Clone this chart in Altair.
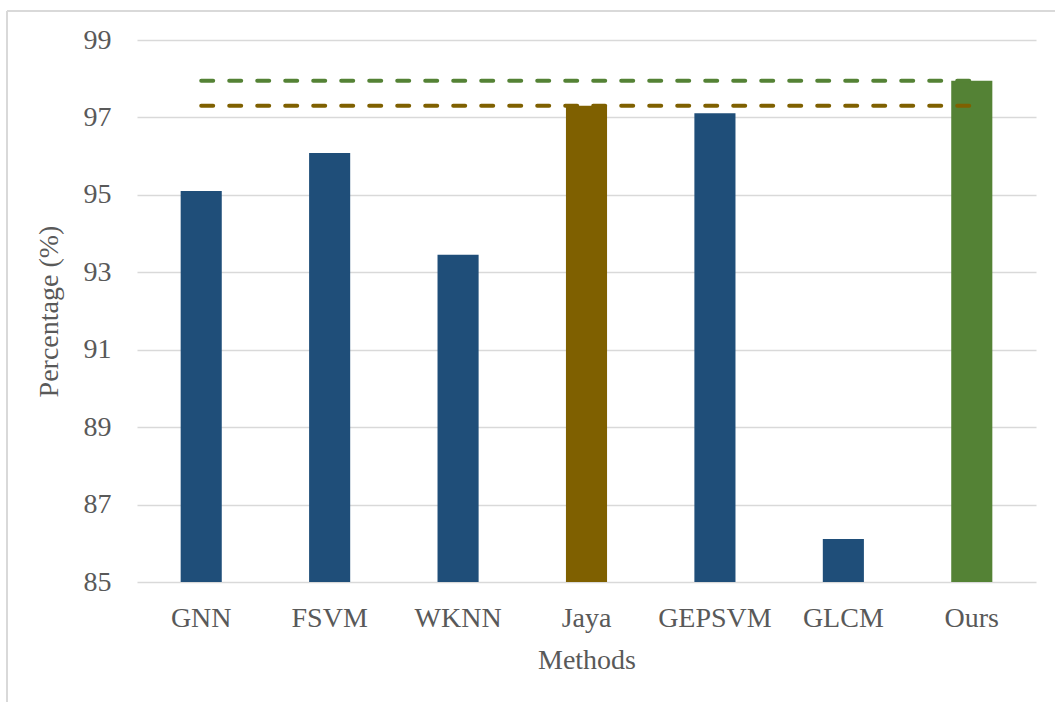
import altair as alt
import pandas as pd

# Accuracy of each method (%)
methods = ["GNN", "FSVM", "WKNN", "Jaya", "GEPSVM", "GLCM", "Ours"]
accuracy = [95.10, 96.08, 93.45, 97.30, 97.11, 86.11, 97.95]
y_ticks = [85, 87, 89, 91, 93, 95, 97, 99]

# Reference levels: best competing method and our method
ref_names = ["Jaya", "Ours"]
ref_values = [accuracy[methods.index(n)] for n in ref_names]

BLUE, BROWN, GREEN = "#1F4E79", "#7F6000", "#548235"
bar_palette = [BLUE, BLUE, BLUE, BROWN, BLUE, BLUE, GREEN]
GRID = "#D9D9D9"
TEXT = "#595959"
FONT = "Liberation Serif"

W, H = 899, 542
PAD = {"left": 137, "top": 40, "right": 19, "bottom": 120}

bars_df = pd.DataFrame({"Method": methods, "Accuracy": accuracy})
ref_rows = []
for name, val in zip(ref_names, ref_values):
    ref_rows.append({"Method": methods[0], "Accuracy": val, "ref": name})
    ref_rows.append({"Method": methods[-1], "Accuracy": val, "ref": name})
ref_df = pd.DataFrame(ref_rows)

x_enc = alt.X(
    "Method:N",
    sort=methods,
    scale=alt.Scale(domain=methods, paddingInner=0.68, paddingOuter=0.34),
    axis=alt.Axis(
        title="Methods",
        labelAngle=0,
        labelPadding=22,
        titlePadding=14,
        ticks=False,
        tickSize=0,
        domain=False,
        grid=False,
    ),
)
y_scale = alt.Scale(domain=[85, 99], nice=False, zero=False)

bars = (
    alt.Chart(bars_df)
    .mark_bar()
    .encode(
        x=x_enc,
        y=alt.Y(
            "Accuracy:Q",
            scale=y_scale,
            axis=alt.Axis(
                title="Percentage (%)",
                values=y_ticks,
                ticks=False,
                tickSize=0,
                domain=False,
                labelPadding=26,
                titlePadding=20,
                grid=True,
                gridColor=GRID,
                gridWidth=1.5,
            ),
        ),
        y2=alt.datum(85),
        color=alt.Color(
            "Method:N",
            scale=alt.Scale(domain=methods, range=bar_palette),
            legend=None,
        ),
    )
)

ref_lines = (
    alt.Chart(ref_df)
    .mark_line(strokeDash=[12, 16], strokeCap="round", strokeWidth=4)
    .encode(
        x=alt.X("Method:N", sort=methods),
        y=alt.Y("Accuracy:Q", scale=y_scale),
        color=alt.Color(
            "ref:N",
            scale=alt.Scale(domain=ref_names, range=[BROWN, GREEN]),
            legend=None,
        ),
    )
)

# Light outer frame (top and left edges)
frame_src = alt.Data(values=[{"k": 0}])
frame_top = alt.Chart(frame_src).mark_rule(color=GRID, strokeWidth=2).encode(
    x=alt.value(7 - PAD["left"]),
    x2=alt.value(W + PAD["right"] + 5),
    y=alt.value(11 - PAD["top"]),
)
frame_left = alt.Chart(frame_src).mark_rule(color=GRID, strokeWidth=2).encode(
    x=alt.value(7 - PAD["left"]),
    y=alt.value(11 - PAD["top"]),
    y2=alt.value(H + PAD["bottom"] + 5),
)

chart = (
    alt.layer(frame_top, frame_left, bars, ref_lines)
    .resolve_scale(color="independent")
    .properties(
        width=W,
        height=H,
        padding=PAD,
        autosize=alt.AutoSizeParams(type="none"),
        background="white",
    )
    .configure_view(stroke=None)
    .configure_axis(
        labelFont=FONT,
        titleFont=FONT,
        labelFontSize=28,
        titleFontSize=28,
        labelColor=TEXT,
        titleColor=TEXT,
        titleFontWeight="normal",
    )
)

chart.save("out.html", embed_options={"renderer": "svg", "actions": False})
